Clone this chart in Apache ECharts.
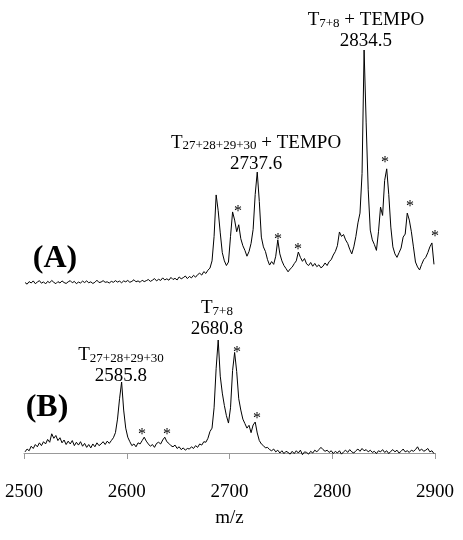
<!DOCTYPE html>
<html>
<head>
<meta charset="utf-8">
<script src="https://cdn.jsdelivr.net/npm/echarts@6/dist/echarts.min.js"></script>
<style>
  html, body { margin: 0; padding: 0; background: #fff; }
  #chart { width: 463px; height: 540px; }
</style>
</head>
<body>
<div id="chart"></div>
<script>
// sampling grid of both spectra (m/z)
const mzStart = 2501;
const mzStep = 2;

// relative intensity, spectrum (A) - TEMPO treated
const intensityA = [
  0.2, -0.5, 0.6, 0.0, 0.9, -0.3, 0.4, 1.0, -0.1, 0.5,
  -0.4, 0.7, 0.1, 1.1, 0.3, -0.3, 0.6, 0.0, 0.9, 0.2,
  -0.2, 0.5, 1.0, 0.1, 0.7, -0.3, 0.4, 0.0, 0.8, 0.2,
  0.9, 0.1, 0.5, -0.2, 0.3, 1.2, 0.2, 0.4, 1.0, 0.3,
  0.5, 0.0, 0.7, 0.3, 1.0, 0.4, 0.8, 0.1, 0.9, 0.5,
  1.1, 0.3, 0.7, 1.4, 0.5, 0.9, 0.3, 1.2, 0.6, 1.0,
  1.5, 0.7, 1.2, 1.9, 0.9, 1.6, 1.1, 2.2, 1.3, 1.8,
  1.2, 2.4, 1.5, 2.0, 1.3, 2.6, 1.8, 2.3, 3.0, 1.9,
  2.8, 2.2, 3.3, 2.5, 3.6, 4.2, 3.4, 4.9, 4.1, 5.5,
  6.4, 9.5, 20, 37.8, 31, 21.5, 13, 9.5, 7.5, 9,
  20, 30.5, 27, 22, 25, 19, 16, 14, 11.5, 13.5,
  17, 23, 38, 47.6, 35, 19.7, 15.5, 13.5, 10, 7.7,
  9.2, 8, 11.5, 18.5, 12.5, 9.5, 7.5, 6.2, 4.8, 6,
  6.8, 8.3, 9.5, 13.3, 11, 9.3, 10.5, 8.2, 7.5, 8.8,
  7.2, 8.4, 7.0, 7.8, 6.5, 7.2, 8.6, 7.5, 9.2, 10,
  12, 13.5, 16, 21.9, 20, 20.8, 18.5, 17, 14.5, 12.5,
  15.5, 20, 25.8, 30, 47, 100, 68.7, 40, 22.7, 18.5,
  16.5, 14, 22, 32.6, 29, 44, 49, 38, 24, 15.5,
  12.5, 11, 13, 15, 19.7, 21, 30, 27, 22, 15.5,
  9, 6.9, 5.6, 8, 10, 11, 13, 15.5, 17.2, 8
];

// relative intensity, spectrum (B) - control
const intensityB = [
  1.0, 3.5, 2.0, 6.0, 4.0, 7.5, 5.5, 9.0, 6.5, 10.0,
  8.0, 12.0, 9.5, 17.0, 13.0, 15.5, 11.0, 13.5, 9.0, 11.5,
  7.5, 10.5, 8.0, 11.0, 6.5, 9.5, 7.0, 10.0, 6.0, 8.5,
  5.0, 7.5, 4.5, 8.0, 5.5, 9.0, 6.5, 8.0, 10.0, 7.5,
  10.5, 8.5, 11.0, 13.5, 18.0, 30.0, 48.0, 62.8, 38.0, 22.0,
  14.0, 10.0, 6.5, 8.0, 5.5, 9.0, 8.0, 11.0, 14.0, 10.5,
  8.0, 6.0, 7.5, 5.0, 8.5, 9.5, 8.0, 11.5, 14.0, 10.0,
  8.5, 6.5, 5.5, 7.0, 4.0, 5.5, 3.0, 4.5, 2.5, 4.0,
  3.5, 5.5, 4.0, 6.5, 5.0, 8.0, 7.0, 10.0, 9.5, 13.0,
  19.0, 22.0, 40.0, 75.0, 100, 68.0, 53.0, 42.0, 33.0, 26.5,
  40.0, 73.0, 89.0, 72.0, 48.0, 38.0, 30.0, 26.0, 22.0, 24.5,
  18.0, 24.8, 27.4, 17.7, 11.0, 8.0, 6.5, 4.5, 5.0, 3.0,
  2.0, 3.5, 1.0, 2.5, 0.0, 2.0, -0.5, 1.5, 0.5, -1.0,
  1.5, -0.5, 2.0, 0.0, 2.5, -1.5, 1.0, 0.5, -1.0, 1.5,
  0.0, 2.5, 1.0, 3.0, 5.0, 3.0, 1.5, 2.5, 0.5, 2.0,
  -0.5, 1.5, 0.0, 2.0, -1.0, 1.0, 2.5, 0.5, 3.0, 1.0,
  0.0, 2.0, 3.5, 1.5, 4.0, 2.0, 3.0, 1.0, 2.5, 0.5,
  1.5, -0.5, 2.0, 1.0, 3.0, 0.5, 2.0, -0.5, 1.5, 3.0,
  1.0, 2.5, 0.0, 1.5, 3.5, 1.0, 2.0, 0.5, 2.5, 1.5,
  3.0, 5.5, 2.0, 3.5, 1.5, 2.5, 4.0, 1.0, 2.0, -0.5
];

const xTicks = [2500, 2600, 2700, 2800, 2900];

// unassigned peaks marked with asterisks: [m/z, intensity]
const starsA = [[2708.3, 31.8], [2747.2, 19.7], [2766.7, 15.5], [2851.3, 52.8], [2875.7, 33.9], [2900, 21.0]];
const starsB = [[2614.8, 18.6], [2639.2, 18.6], [2707.3, 91.2], [2726.8, 32.7]];

// peak annotations: position [m/z, intensity], subscript, suffix, mass
const peakLabelsA = [
  { at: [2832.8, 108.6], sub: '7+8', suffix: ' + TEMPO', mass: '2834.5' },
  { at: [2725.8, 56.2], sub: '27+28+29+30', suffix: ' + TEMPO', mass: '2737.6' }
];
const peakLabelsB = [
  { at: [2687.8, 119.5], sub: '7+8', suffix: '', mass: '2680.8' },
  { at: [2594.4, 77.9], sub: '27+28+29+30', suffix: '', mass: '2585.8' }
];
const panelLabels = [
  { text: '(A)', at: [2530.2, 10.3] },
  { text: '(B)', at: [2522.4, 39.8] }
];

const serif = '"Liberation Serif", "Times New Roman", serif';

const toPairs = vals => vals.map((v, i) => [mzStart + i * mzStep, v]);

const rich = {
  m: { fontFamily: serif, fontSize: 19, color: '#000', lineHeight: 21, verticalAlign: 'bottom' },
  s: { fontFamily: serif, fontSize: 13, color: '#000', lineHeight: 13, verticalAlign: 'bottom' }
};

const hidden = { symbol: 'circle', symbolSize: 1, itemStyle: { color: 'rgba(0,0,0,0)' } };

const markItems = (stars, labels, panel) => [
  ...stars.map(c => ({
    coord: c,
    label: {
      show: true, position: 'inside', formatter: '*', offset: [0, 3],
      fontFamily: serif, fontSize: 16, color: '#000'
    }
  })),
  ...labels.map(l => ({
    coord: l.at,
    label: {
      show: true, position: 'inside', align: 'center',
      formatter: `{m|T}{s|${l.sub}}{m|${l.suffix}}\n{m|${l.mass}}`,
      rich: rich
    }
  })),
  {
    coord: panel.at,
    label: {
      show: true, position: 'inside', formatter: panel.text,
      fontFamily: serif, fontSize: 32, fontWeight: 'bold', color: '#000'
    }
  }
];

const spectrum = (idx, vals, stars, labels, panel) => ({
  type: 'line',
  xAxisIndex: idx,
  yAxisIndex: idx,
  data: toPairs(vals),
  showSymbol: false,
  symbol: 'none',
  clip: false,
  lineStyle: { color: '#000', width: 1 },
  markPoint: Object.assign({ data: markItems(stars, labels, panel) }, hidden)
});

const chart = echarts.init(document.getElementById('chart'));

// y scales: (A) 2.33 px per unit with 0 at y=283, (B) 1.13 px per unit with 0 at y=453
chart.setOption({
  animation: false,
  grid: [
    { left: 24, width: 411, top: 3.4, height: 279.6 },
    { left: 24, width: 411, top: 306.1, height: 146.9 }
  ],
  xAxis: [
    { gridIndex: 0, type: 'value', min: 2500, max: 2900, show: false },
    {
      gridIndex: 1, type: 'value',
      min: xTicks[0], max: xTicks[xTicks.length - 1], interval: 100,
      offset: 14,
      axisLine: { lineStyle: { color: '#999', width: 1 } },
      axisTick: { length: 6, lineStyle: { color: '#999' } },
      axisLabel: {
        margin: 16, color: '#000', fontFamily: serif, fontSize: 19,
        formatter: v => String(v)
      },
      splitLine: { show: false },
      name: 'm/z',
      nameLocation: 'middle',
      nameGap: 42,
      nameTextStyle: { color: '#000', fontFamily: serif, fontSize: 19 }
    }
  ],
  yAxis: [
    { gridIndex: 0, type: 'value', min: 0, max: 120, show: false },
    { gridIndex: 1, type: 'value', min: 0, max: 130, show: false }
  ],
  series: [
    spectrum(0, intensityA, starsA, peakLabelsA, panelLabels[0]),
    spectrum(1, intensityB, starsB, peakLabelsB, panelLabels[1])
  ]
});
</script>
</body>
</html>
